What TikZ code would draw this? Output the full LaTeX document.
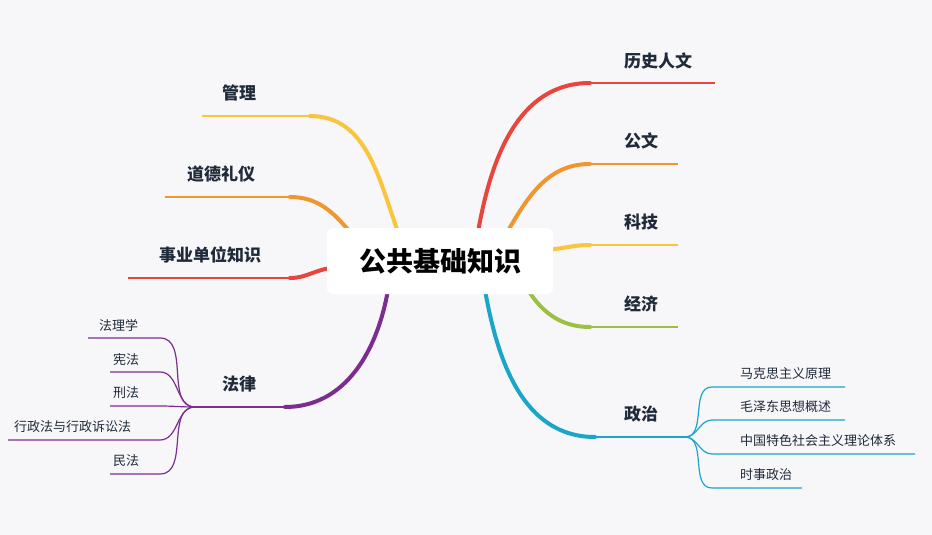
\documentclass[tikz,border=0pt]{standalone}
\usepackage{fontspec}
\newfontfamily\cjk{Noto Sans CJK SC}
\definecolor{bg}{HTML}{F7F7F9}
\definecolor{txt}{HTML}{1F2A3A}
\definecolor{cr}{HTML}{E8453C}
\definecolor{co}{HTML}{F0962E}
\definecolor{cy}{HTML}{F8C53C}
\definecolor{cg}{HTML}{9CC043}
\definecolor{cc}{HTML}{1AA6C8}
\definecolor{cp}{HTML}{7B2D90}
\begin{document}
\begin{tikzpicture}[x=1pt,y=-1pt,
  lab/.style={font=\cjk\bfseries\fontsize{17}{20}\selectfont,text=txt,inner sep=0},
  slab/.style={font=\cjk\fontsize{13}{15}\selectfont,text=txt,anchor=west,inner sep=0},
  mainb/.style={line width=4pt,line cap=round},
  ul/.style={line width=1.6pt},
  sub/.style={line width=1.2pt}]
\fill[bg] (0,0) rectangle (932,535);
\useasboundingbox (0,0) rectangle (932,535);
% right branches
\coordinate (s1) at (478,232); \coordinate (e1) at (590,83);
\draw[cr,mainb] (s1) to[out=-80+160,in=180] (e1);
\draw[cr,ul] (e1) -- (715,83);
\node[lab] (l1) at (658,61) {历史人文};
\coordinate (s2) at (505,236); \coordinate (e2) at (590,164);
\draw[co,mainb] (s2) to[out=60,in=180] (e2);
\draw[co,ul] (e2) -- (678,164);
\node[lab] (l2) at (641,141) {公文};
\coordinate (s3) at (540,250); \coordinate (e3) at (590,245);
\draw[cy,mainb] (s3) to[out=0,in=180] (e3);
\draw[cy,ul] (e3) -- (678,245);
\node[lab] (l3) at (641,222) {科技};
\coordinate (s4) at (525,285); \coordinate (e4) at (590,327);
\draw[cg,mainb] (s4) to[out=-60,in=180] (e4);
\draw[cg,ul] (e4) -- (678,327);
\node[lab] (l4) at (641,304) {经济};
\coordinate (s5) at (485,290); \coordinate (e5) at (595,437);
\draw[cc,mainb] (s5) to[out=-80,in=180] (e5);
\draw[cc,ul] (e5) -- (685,437);
\node[lab] (l5) at (641,414) {政治};
\foreach \y/\xe/\t [count=\i] in {387/845/马克思主义原理,420/845/毛泽东思想概述,454/915/中国特色社会主义理论体系,488/802/时事政治}{
  \coordinate (p\i) at (712,\y);
  \draw[cc,sub] (685,437) to[out=0,in=180] (p\i) -- (\xe,\y);
  \node[slab] (pl\i) at (740,\y-13) {\t};
}
% left branches
\coordinate (t1) at (398,232); \coordinate (f1) at (310,116);
\draw[cy,mainb] (t1) to[out=110,in=0] (f1);
\draw[cy,ul] (f1) -- (202,116);
\node[lab] (m1) at (239,93) {管理};
\coordinate (t2) at (350,232); \coordinate (f2) at (290,197);
\draw[co,mainb] (t2) to[out=130,in=0] (f2);
\draw[co,ul] (f2) -- (165,197);
\node[lab] (m2) at (221,174) {道德礼仪};
\coordinate (t3) at (335,268); \coordinate (f3) at (290,278);
\draw[cr,mainb] (t3) to[out=180,in=0] (f3);
\draw[cr,ul] (f3) -- (128,278);
\node[lab] (m3) at (210,255) {事业单位知识};
\coordinate (t4) at (388,290); \coordinate (f4) at (285,407);
\draw[cp,mainb] (t4) to[out=-100,in=0] (f4);
\draw[cp,ul] (f4) -- (195,407);
\node[lab] (m4) at (239,384) {法律};
\foreach \y/\xs/\xl/\t [count=\i] in {338/88/99/法理学,372/110/113/宪法,406/110/113/刑法,440/8/14/行政法与行政诉讼法,474/110/113/民法}{
  \coordinate (q\i) at (160,\y);
  \draw[cp,sub] (195,407) to[out=180,in=0] (q\i) -- (\xs,\y);
  \node[slab] (ql\i) at (\xl,\y-13) {\t};
}
% center
\node[fill=white,rounded corners=6pt,minimum width=226pt,minimum height=66pt,
  font=\cjk\bfseries\fontsize{27}{30}\selectfont,text=black] (c) at (440,261) {公共基础知识};
\end{tikzpicture}
\end{document}
